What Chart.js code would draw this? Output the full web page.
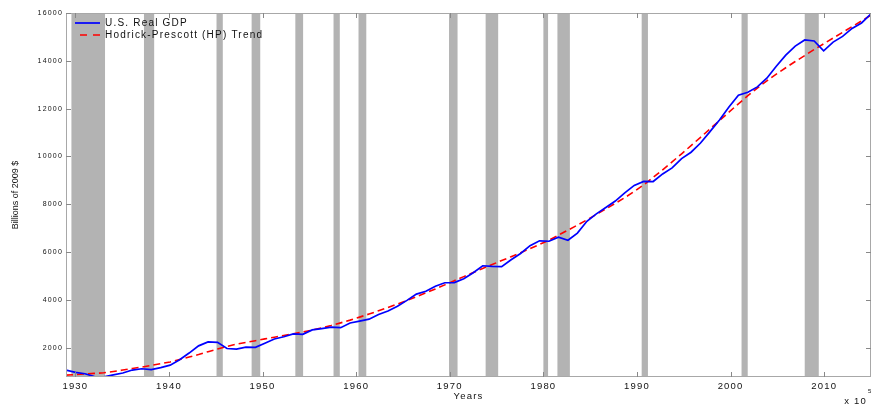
<!DOCTYPE html>
<html>
<head>
<meta charset="utf-8">
<title>U.S. Real GDP and HP Trend</title>
<script src="https://cdn.jsdelivr.net/npm/chart.js@4.4.1/dist/chart.umd.min.js"></script>
<style>
  body { margin: 0; background: #fff; }
  #gdpChart { display: block; }
</style>
</head>
<body>
<canvas id="gdpChart" width="879" height="412"></canvas>
<script>
const years = [
  1929, 1930, 1931, 1932, 1933, 1934, 1935, 1936, 1937, 1938,
  1939, 1940, 1941, 1942, 1943, 1944, 1945, 1946, 1947, 1948,
  1949, 1950, 1951, 1952, 1953, 1954, 1955, 1956, 1957, 1958,
  1959, 1960, 1961, 1962, 1963, 1964, 1965, 1966, 1967, 1968,
  1969, 1970, 1971, 1972, 1973, 1974, 1975, 1976, 1977, 1978,
  1979, 1980, 1981, 1982, 1983, 1984, 1985, 1986, 1987, 1988,
  1989, 1990, 1991, 1992, 1993, 1994, 1995, 1996, 1997, 1998,
  1999, 2000, 2001, 2002, 2003, 2004, 2005, 2006, 2007, 2008,
  2009, 2010, 2011, 2012, 2013, 2014
];

// billions of 2009 dollars
const realGdp = [
  1056.6, 966.7, 904.8, 788.2, 778.3, 862.2, 939.0, 1060.5, 1114.6, 1077.7,
  1163.6, 1266.1, 1490.3, 1771.8, 2073.7, 2239.4, 2217.8, 1960.9, 1939.4, 2020.0,
  2008.9, 2184.0, 2360.0, 2456.1, 2571.4, 2556.9, 2739.0, 2797.4, 2856.3, 2835.3,
  3031.0, 3108.7, 3188.1, 3383.1, 3530.4, 3734.0, 3976.7, 4238.0, 4355.2, 4569.0,
  4712.5, 4722.0, 4877.6, 5134.3, 5424.1, 5396.0, 5385.4, 5675.4, 5937.0, 6267.2,
  6466.2, 6450.4, 6617.7, 6491.3, 6792.0, 7285.0, 7593.8, 7860.5, 8132.6, 8474.5,
  8786.4, 8955.0, 8948.4, 9266.6, 9521.0, 9905.4, 10174.8, 10561.0, 11034.9, 11525.9,
  12065.9, 12559.7, 12682.2, 12908.8, 13271.1, 13773.5, 14234.2, 14613.8, 14873.7, 14830.4,
  14418.7, 14783.8, 15020.6, 15354.6, 15583.3, 15961.7
];

const hpTrend = [
  850, 870, 895, 920, 945, 1000, 1060, 1125, 1185, 1255,
  1325, 1400, 1500, 1605, 1710, 1830, 1940, 2050, 2145, 2215,
  2290, 2365, 2435, 2505, 2575, 2650, 2735, 2825, 2925, 3035,
  3150, 3275, 3405, 3540, 3680, 3825, 3975, 4130, 4290, 4455,
  4625, 4800, 4970, 5140, 5310, 5475, 5640, 5805, 5970, 6140,
  6315, 6495, 6705, 6915, 7125, 7345, 7570, 7800, 8035, 8275,
  8530, 8810, 9120, 9440, 9770, 10110, 10450, 10800, 11150, 11500,
  11850, 12200, 12540, 12860, 13160, 13440, 13710, 13970, 14220, 14470,
  14710, 14950, 15190, 15430, 15670, 15910
];

// NBER recessions, as fractions of a year
const recessionStart = [1929.58, 1937.33, 1945.08, 1948.83, 1953.50, 1957.58, 1960.25,
  1969.92, 1973.83, 1980.00, 1981.50, 1990.50, 2001.17, 2007.92];
const recessionEnd = [1933.17, 1938.42, 1945.75, 1949.75, 1954.33, 1958.25, 1961.08,
  1970.83, 1975.17, 1980.50, 1982.83, 1991.17, 2001.83, 2009.42];

const yearTicks = [1930, 1940, 1950, 1960, 1970, 1980, 1990, 2000, 2010];
const gdpTicks = [2000, 4000, 6000, 8000, 10000, 12000, 14000, 16000];

Chart.defaults.font.family = "'Liberation Sans', Arial, Helvetica, sans-serif";
Chart.defaults.color = '#111';

// matlab style text is small but widely spaced
const textSpacing = {
  id: 'textSpacing',
  beforeLayout(chart) { chart.ctx.letterSpacing = '1.2px'; },
  beforeDraw(chart) { chart.ctx.letterSpacing = '1.2px'; },
  afterLayout(chart) {
    // legend sits inside the axes, a bit in from the corner
    chart.legend.left = chart.chartArea.left + 7;
    chart.legend.top = chart.chartArea.top + 3;

    const y = chart.scales.y;
    if (!y._plainTitle) {
      const drawTitle = y.drawTitle;
      y.drawTitle = function () {
        this.ctx.letterSpacing = '0px';
        drawTitle.call(this);
        this.ctx.letterSpacing = '1.2px';
      };
      y._plainTitle = true;
    }
  }
};

const recessionShading = {
  id: 'recessionShading',
  beforeDraw(chart) {
    const { ctx, chartArea, scales } = chart;
    ctx.save();
    ctx.fillStyle = '#b3b3b3';
    recessionStart.forEach((start, i) => {
      const x0 = scales.xDate.getPixelForValue(start);
      const x1 = scales.xDate.getPixelForValue(recessionEnd[i]);
      ctx.fillRect(x0, chartArea.top, x1 - x0, chartArea.bottom - chartArea.top);
    });
    ctx.restore();
  }
};

// box with inward ticks on all four sides, plus the stray exponent label
const axesBox = {
  id: 'axesBox',
  afterDraw(chart) {
    const { ctx, chartArea, scales } = chart;
    const { left, right, top, bottom } = chartArea;
    ctx.save();
    ctx.strokeStyle = '#a8a8a8';
    ctx.lineWidth = 1;
    ctx.strokeRect(left + 0.5, top + 0.5, right - left - 1, bottom - top - 1);

    ctx.strokeStyle = '#888';
    ctx.beginPath();
    yearTicks.forEach(v => {
      const x = Math.round(scales.xDate.getPixelForValue(v)) + 0.5;
      ctx.moveTo(x, bottom); ctx.lineTo(x, bottom - 5);
      ctx.moveTo(x, top); ctx.lineTo(x, top + 5);
    });
    gdpTicks.forEach(v => {
      const y = Math.round(scales.y.getPixelForValue(v)) + 0.5;
      ctx.moveTo(left, y); ctx.lineTo(left + 5, y);
      ctx.moveTo(right, y); ctx.lineTo(right - 5, y);
    });
    ctx.stroke();

    ctx.fillStyle = '#111';
    ctx.textBaseline = 'middle';
    ctx.textAlign = 'right';
    ctx.font = "9.5px 'Liberation Sans', Arial, sans-serif";
    ctx.fillText('x 10', right - 4, 401);
    ctx.textAlign = 'left';
    ctx.font = "6px 'Liberation Sans', Arial, sans-serif";
    ctx.fillText('5', right - 3, 391);
    ctx.restore();
  }
};

const ctx = document.getElementById('gdpChart').getContext('2d');
const gdpChart = new Chart(ctx, {
  type: 'line',
  data: {
    datasets: [{
      label: 'U.S. Real GDP',
      data: years.map((yr, i) => ({ x: yr, y: realGdp[i] })),
      borderColor: '#0000ff',
      backgroundColor: '#0000ff',
      borderWidth: 1.7,
      pointRadius: 0,
      tension: 0,
      xAxisID: 'x'
    }, {
      label: 'Hodrick-Prescott (HP) Trend',
      data: years.map((yr, i) => ({ x: yr, y: hpTrend[i] })),
      borderColor: '#ff0000',
      backgroundColor: '#ff0000',
      borderWidth: 1.6,
      borderDash: [7, 4],
      pointRadius: 0,
      tension: 0,
      xAxisID: 'x'
    }]
  },
  options: {
    responsive: false,
    animation: false,
    layout: { padding: { top: 13, right: 8, left: 0, bottom: 0 } },
    plugins: {
      legend: {
        position: 'chartArea',
        align: 'start',
        labels: {
          usePointStyle: true,
          pointStyle: 'line',
          pointStyleWidth: 25,
          padding: 2,
          color: '#111',
          font: { size: 10 },
          // point style legend loses the dash, put it back
          generateLabels: chart => Chart.defaults.plugins.legend.labels.generateLabels(chart)
            .map((item, i) => {
              const ds = chart.data.datasets[i];
              item.lineWidth = ds.borderWidth;
              if (ds.borderDash) {
                item.lineDash = [7, 6];
                item.lineDashOffset = 8;
              }
              return item;
            })
        }
      },
      tooltip: { enabled: false }
    },
    scales: {
      x: {
        type: 'linear',
        display: false,
        min: 1929,
        max: 2014
      },
      xDate: {
        type: 'linear',
        position: 'bottom',
        min: 1929,
        max: 2015,
        grid: { display: false, drawTicks: false },
        border: { display: false },
        afterBuildTicks: scale => { scale.ticks = yearTicks.map(v => ({ value: v })); },
        ticks: {
          maxRotation: 0,
          autoSkip: false,
          padding: 4,
          color: '#111',
          font: { size: 9.5 },
          callback: v => String(v)
        },
        title: {
          display: true,
          text: 'Years',
          color: '#111',
          font: { size: 9.5 },
          padding: { top: 0, bottom: 10 }
        },
        afterFit: scale => { scale.height = 35; }
      },
      y: {
        min: 770,
        max: 16000,
        grid: { display: false, drawTicks: false },
        border: { display: false },
        afterBuildTicks: scale => { scale.ticks = gdpTicks.map(v => ({ value: v })); },
        ticks: {
          autoSkip: false,
          padding: 3,
          color: '#111',
          font: { size: 7 },
          callback: v => String(v)
        },
        title: {
          display: true,
          text: 'Billions of 2009 $',
          color: '#111',
          font: { size: 9 },
          padding: { top: 10, bottom: 0 }
        },
        afterFit: scale => { scale.width = 66; }
      }
    }
  },
  plugins: [textSpacing, recessionShading, axesBox]
});
</script>
</body>
</html>
